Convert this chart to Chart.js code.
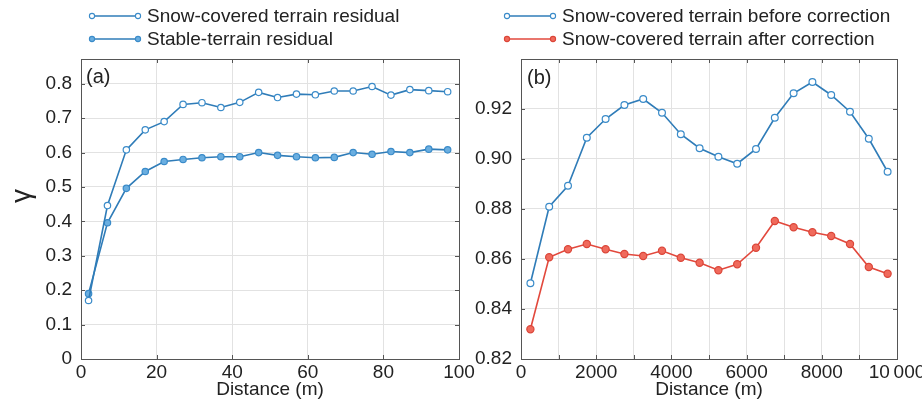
<!DOCTYPE html>
<html>
<head>
<meta charset="utf-8">
<script src="https://cdn.jsdelivr.net/npm/chart.js@4.4.1/dist/chart.umd.min.js"></script>
<style>
  html, body { margin: 0; padding: 0; background: #fff; overflow: hidden; }
  body { width: 922px; height: 401px; position: relative; font-family: "Liberation Sans", Arial, sans-serif; color: #222; }
  .box { position: absolute; top: 0; height: 401px; }
  .leg { position: absolute; font-size: 19px; line-height: 22px; white-space: nowrap; }
  .leg svg { position: absolute; left: 0; top: 6px; }
  .leg span { position: absolute; white-space: nowrap; }
  .tag { position: absolute; font-size: 20px; line-height: 22px; }
  .ylab { position: absolute; left: 6px; top: 181px; width: 30px; height: 30px; line-height: 30px;
          text-align: center; font-size: 28px; transform: rotate(-90deg); }
</style>
</head>
<body>
<div class="box" style="left:0;width:480px"><canvas id="chart-a"></canvas></div>
<div class="box" style="left:460px;width:470px"><canvas id="chart-b"></canvas></div>

<div class="ylab">γ</div>
<div class="tag" style="left:86px;top:65px">(a)</div>
<div class="tag" style="left:527px;top:66px">(b)</div>

<div class="leg" id="leg-a1" style="left:88px;top:5px"></div>
<div class="leg" id="leg-a2" style="left:88px;top:28px"></div>
<div class="leg" id="leg-b1" style="left:503px;top:5px"></div>
<div class="leg" id="leg-b2" style="left:503px;top:28px"></div>

<script>
// panel (a): residual curves vs distance
const distA = [2, 7, 12, 17, 22, 27, 32, 37, 42, 47, 52, 57, 62, 67, 72, 77, 82, 87, 92, 97];
const snowResidual = [0.17, 0.446, 0.608, 0.666, 0.690, 0.740, 0.745, 0.731, 0.746, 0.775,
  0.760, 0.770, 0.768, 0.779, 0.779, 0.792, 0.767, 0.783, 0.780, 0.777];
const stableResidual = [0.19, 0.396, 0.496, 0.545, 0.574, 0.580, 0.585, 0.588, 0.588, 0.600,
  0.592, 0.588, 0.585, 0.586, 0.600, 0.595, 0.603, 0.600, 0.610, 0.608];

// panel (b): before / after correction
const distB = [250, 750, 1250, 1750, 2250, 2750, 3250, 3750, 4250, 4750,
  5250, 5750, 6250, 6750, 7250, 7750, 8250, 8750, 9250, 9750];
const snowBefore = [0.8503, 0.8809, 0.8893, 0.9085, 0.9160, 0.9216, 0.9240, 0.9185, 0.9099, 0.9043,
  0.9009, 0.8981, 0.9040, 0.9165, 0.9263, 0.9308, 0.9256, 0.9189, 0.9081, 0.8949];
const snowAfter = [0.8319, 0.8607, 0.8639, 0.8660, 0.8639, 0.8620, 0.8612, 0.8633, 0.8605, 0.8585,
  0.8555, 0.8579, 0.8645, 0.8752, 0.8727, 0.8707, 0.8692, 0.8660, 0.8568, 0.8541];

// ticks
const aXTicks = [0, 20, 40, 60, 80, 100];
const aXLabels = ["0", "20", "40", "60", "80", "100"];
const aYTicks = [0, 0.1, 0.2, 0.3, 0.4, 0.5, 0.6, 0.7, 0.8];
const aYLabels = ["0", "0.1", "0.2", "0.3", "0.4", "0.5", "0.6", "0.7", "0.8"];
const bXTicks = [0, 1000, 2000, 3000, 4000, 5000, 6000, 7000, 8000, 9000, 10000];
const bXLabels = ["0", "", "2000", "", "4000", "", "6000", "", "8000", "", "10\u2009000"];
const bYTicks = [0.82, 0.84, 0.86, 0.88, 0.90, 0.92];
const bYLabels = ["0.82", "0.84", "0.86", "0.88", "0.90", "0.92"];

const legendA = ["Snow-covered terrain residual", "Stable-terrain residual"];
const legendB = ["Snow-covered terrain before correction", "Snow-covered terrain after correction"];

const BLUE_LINE = "#2f7cb8";
const BLUE_EDGE = "#3a8bc9";
const BLUE_FILL = "#6aaee0";
const RED_LINE = "#e2483c";
const RED_EDGE = "#db4538";
const RED_FILL = "#f06a5c";
const AXIS = "#555";
const GRID = "#e2e2e2";

Chart.defaults.font.family = "'Liberation Sans', Arial, sans-serif";
Chart.defaults.font.size = 19;
Chart.defaults.color = "#222";

const toXY = (xs, ys) => xs.map((x, i) => ({ x, y: ys[i] }));

// box around the plot area with inward tick marks, MATLAB style
const frame = {
  id: "frame",
  beforeDatasetsDraw(chart) {
    const { ctx, chartArea: a, scales } = chart;
    ctx.save();
    ctx.strokeStyle = AXIS;
    ctx.lineWidth = 1;
    ctx.strokeRect(Math.round(a.left) + 0.5, Math.round(a.top) + 0.5,
      Math.round(a.right - a.left), Math.round(a.bottom - a.top));
    ctx.beginPath();
    scales.x.ticks.forEach((t) => {
      const px = Math.round(scales.x.getPixelForValue(t.value)) + 0.5;
      ctx.moveTo(px, a.bottom); ctx.lineTo(px, a.bottom - 4);
      ctx.moveTo(px, a.top); ctx.lineTo(px, a.top + 4);
    });
    scales.y.ticks.forEach((t) => {
      const py = Math.round(scales.y.getPixelForValue(t.value)) + 0.5;
      ctx.moveTo(a.left, py); ctx.lineTo(a.left + 4, py);
      ctx.moveTo(a.right, py); ctx.lineTo(a.right - 4, py);
    });
    ctx.stroke();
    ctx.restore();
  },
};

function lineSet(label, xs, ys, line, edge, fill, r) {
  return {
    label,
    data: toXY(xs, ys),
    borderColor: line,
    borderWidth: 1.6,
    pointBackgroundColor: fill,
    pointBorderColor: edge,
    pointBorderWidth: 1.2,
    pointRadius: r,
    tension: 0,
  };
}

function makeChart(id, datasets, opts) {
  const canvas = document.getElementById(id);
  return new Chart(canvas.getContext("2d"), {
    type: "line",
    data: { datasets },
    plugins: [frame],
    options: {
      responsive: true,
      maintainAspectRatio: false,
      animation: false,
      layout: { padding: { top: 59, left: 0, right: opts.padRight, bottom: 0 } },
      plugins: { legend: { display: false }, tooltip: { enabled: false } },
      scales: {
        x: {
          type: "linear",
          min: opts.xMin,
          max: opts.xMax,
          afterBuildTicks: (axis) => { axis.ticks = opts.xTicks.map((v) => ({ value: v })); },
          afterFit: (scale) => { scale.height = 42; },
          ticks: {
            autoSkip: false,
            maxRotation: 0,
            padding: 2,
            callback: (v, i) => opts.xLabels[i],
          },
          grid: { color: GRID, drawTicks: false },
          border: { display: false },
          title: {
            display: true,
            text: "Distance (m)",
            font: { size: 19 },
            padding: { top: 0, bottom: 0 },
          },
        },
        y: {
          min: opts.yMin,
          max: opts.yMax,
          afterBuildTicks: (axis) => { axis.ticks = opts.yTicks.map((v) => ({ value: v })); },
          afterFit: (scale) => { scale.width = opts.yWidth; },
          ticks: {
            autoSkip: false,
            padding: 9,
            callback: (v, i) => opts.yLabels[i],
          },
          grid: { color: GRID, drawTicks: false },
          border: { display: false },
        },
      },
    },
  });
}

makeChart("chart-a", [
  lineSet(legendA[0], distA, snowResidual, BLUE_LINE, BLUE_EDGE, "#ffffff", 3.2),
  lineSet(legendA[1], distA, stableResidual, BLUE_LINE, BLUE_EDGE, BLUE_FILL, 3.2),
], {
  padRight: 21, yWidth: 81,
  xMin: 0, xMax: 100, xTicks: aXTicks, xLabels: aXLabels,
  yMin: 0, yMax: 0.872, yTicks: aYTicks, yLabels: aYLabels,
});

makeChart("chart-b", [
  lineSet(legendB[0], distB, snowBefore, BLUE_LINE, BLUE_EDGE, "#ffffff", 3.4),
  lineSet(legendB[1], distB, snowAfter, RED_LINE, RED_EDGE, RED_FILL, 3.6),
], {
  padRight: 33, yWidth: 61,
  xMin: 0, xMax: 10000, xTicks: bXTicks, xLabels: bXLabels,
  yMin: 0.82, yMax: 0.94, yTicks: bYTicks, yLabels: bYLabels,
});

// legend entries: line with a marker on each end
function legendItem(id, text, line, edge, fill) {
  const el = document.getElementById(id);
  el.innerHTML =
    '<svg width="56" height="10">' +
    '<line x1="4" y1="5" x2="50" y2="5" stroke="' + line + '" stroke-width="1.6"/>' +
    '<circle cx="4" cy="5" r="2.6" fill="' + fill + '" stroke="' + edge + '" stroke-width="1.1"/>' +
    '<circle cx="50" cy="5" r="2.6" fill="' + fill + '" stroke="' + edge + '" stroke-width="1.1"/>' +
    "</svg><span style=\"left:59px\">" + text + "</span>";
}
legendItem("leg-a1", legendA[0], BLUE_LINE, BLUE_EDGE, "#ffffff");
legendItem("leg-a2", legendA[1], BLUE_LINE, BLUE_EDGE, BLUE_FILL);
legendItem("leg-b1", legendB[0], BLUE_LINE, BLUE_EDGE, "#ffffff");
legendItem("leg-b2", legendB[1], RED_LINE, RED_EDGE, RED_FILL);
</script>
</body>
</html>
